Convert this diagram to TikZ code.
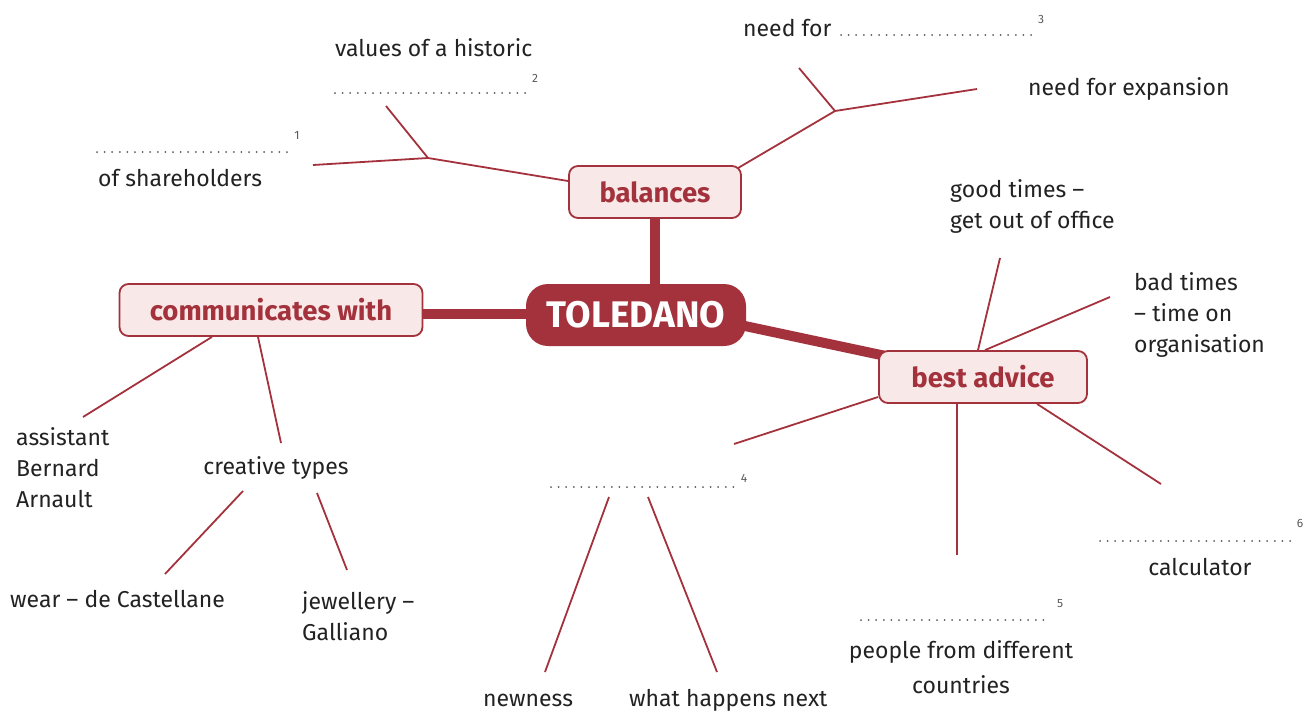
\documentclass[tikz,border=0pt]{standalone}
\usepackage{fontspec}
\setmainfont{Fira Sans}
\usetikzlibrary{calc,backgrounds}
\definecolor{maroon}{HTML}{A3323C}
\definecolor{pinkfill}{HTML}{F8E8E8}
\definecolor{txt}{HTML}{222222}
\definecolor{dotgray}{HTML}{5A5A5A}
\begin{document}
\begin{tikzpicture}[x=1pt,y=-1pt,
  box/.style={draw=maroon, line width=1.8pt, fill=pinkfill, rounded corners=9pt, text=maroon,
    font=\fontsize{27.5}{30}\selectfont\bfseries, minimum height=52pt, inner sep=0pt},
  hub/.style={fill=maroon, rounded corners=22pt, text=white,
    font=\fontsize{37}{40}\selectfont\bfseries, minimum width=220pt, minimum height=62pt, inner sep=0pt},
  thinline/.style={draw=maroon, line width=1.8pt},
  thickline/.style={draw=maroon, line width=10pt},
  lbl/.style={text=txt, font=\fontsize{23}{31}\selectfont, inner sep=0pt, align=left},
  blank/.style={draw=dotgray, line width=2pt, line cap=round, dash pattern=on 0pt off 7.6pt},
  num/.style={text=dotgray, font=\fontsize{12}{14}\selectfont, inner sep=0pt}]
\useasboundingbox (0,0) rectangle (1312,713);

% main nodes
\node[hub] (tol) at (636,315) {TOLEDANO};
\node[box, minimum width=172pt] (bal) at (655,192) {balances};
\node[box, minimum width=303pt] (com) at (271,310) {communicates with};
\node[box, minimum width=208pt] (adv) at (983,377) {best advice};

% text labels
\node[lbl, anchor=west] (hist) at (335,48) {values of a historic};
\node[lbl, anchor=west] (share) at (98,178) {of shareholders};
\node[lbl, anchor=west] (need) at (743,28) {need for};
\node[lbl, anchor=west] (expan) at (1028,89) {need for expansion};
\node[lbl, anchor=west] (assist) at (16,468) {assistant\\Bernard\\Arnault};
\node[lbl] (creat) at (276,468) {creative types};
\node[lbl, anchor=west] (wear) at (10,599) {wear -- de Castellane};
\node[lbl, anchor=west] (jewel) at (302,616) {jewellery --\\Galliano};
\node[lbl, anchor=west] (good) at (950,206) {good times --\\get out of office};
\node[lbl, anchor=west] (bad) at (1134,315) {bad times\\-- time on\\organisation};
\node[lbl, anchor=west] (new) at (483,700) {newness};
\node[lbl, anchor=west] (what) at (629,700) {what happens next};
\node[lbl] (calc) at (1200,567) {calculator};
\node[lbl, align=center] (people) at (961,667) {people from different\\[4pt]countries};

% blanks with numbers
\coordinate (b1s) at (97,152);  \coordinate (b1e) at (287,152);
\coordinate (b2s) at (335,93);  \coordinate (b2e) at (525,93);
\coordinate (b3s) at (841,35);  \coordinate (b3e) at (1031,35);
\coordinate (b4s) at (551,487); \coordinate (b4e) at (735,487);
\coordinate (b5s) at (861,620); \coordinate (b5e) at (1050,620);
\coordinate (b6s) at (1100,541);\coordinate (b6e) at (1290,541);
\draw[blank] (b1s) -- (b1e);
\draw[blank] (b2s) -- (b2e);
\draw[blank] (b3s) -- (b3e);
\draw[blank] (b4s) -- (b4e);
\draw[blank] (b5s) -- (b5e);
\draw[blank] (b6s) -- (b6e);
\node[num] (n1) at (297,135) {1};
\node[num] (n2) at (535,78) {2};
\node[num] (n3) at (1041,19) {3};
\node[num] (n4) at (744,478) {4};
\node[num] (n5) at (1060,604) {5};
\node[num] (n6) at (1300,523) {6};

% thick connectors
\begin{scope}[on background layer]
\draw[thickline] (bal.south) -- (bal.south |- tol.north);
\draw[thickline] ($(com.east)+(-2,4)$) -- ($(tol.west)+(4,-1)$);
\draw[thickline] ($(tol.east)+(-6,10)$) -- ($(adv.north west)+(8,6)$);
\end{scope}

% balances branches
\coordinate (j1) at (428,158);
\coordinate (e1) at (313,165);
\coordinate (e2) at (386,106);
\draw[thinline] ($(bal.west)+(0,-11)$) -- (j1);
\draw[thinline] (j1) -- (e1);
\draw[thinline] (j1) -- (e2);
\coordinate (j2) at (835,111);
\coordinate (e3) at (799,68);
\coordinate (e4) at (977,89);
\draw[thinline] ($(bal.north east)+(-4,3)$) -- (j2);
\draw[thinline] (j2) -- (e3);
\draw[thinline] (j2) -- (e4);

% communicates branches
\coordinate (e5) at (83,417);
\coordinate (e6) at (281,443);
\draw[thinline] ($(com.south)+(-59,0)$) -- (e5);
\draw[thinline] ($(com.south)+(-13,0)$) -- (e6);
\coordinate (c1) at (243,491); \coordinate (e7) at (165,574);
\coordinate (c2) at (317,493); \coordinate (e8) at (347,570);
\draw[thinline] (c1) -- (e7);
\draw[thinline] (c2) -- (e8);

% best advice branches
\coordinate (e9) at (1000,258);
\coordinate (e10) at (1110,297);
\coordinate (e11) at (734,444);
\coordinate (e12) at (957,555);
\coordinate (e13) at (1161,484);
\draw[thinline] ($(adv.north)+(-5,0)$) -- (e9);
\draw[thinline] ($(adv.north)+(2,0)$) -- (e10);
\draw[thinline] ($(adv.west)+(0,20)$) -- (e11);
\draw[thinline] ($(adv.south)+(-26,0)$) -- (e12);
\draw[thinline] ($(adv.south)+(54,0)$) -- (e13);

% blank 4 branches
\coordinate (d1) at (609,497); \coordinate (e14) at (545,672);
\coordinate (d2) at (648,497); \coordinate (e15) at (717,672);
\draw[thinline] (d1) -- (e14);
\draw[thinline] (d2) -- (e15);
\end{tikzpicture}
\end{document}
